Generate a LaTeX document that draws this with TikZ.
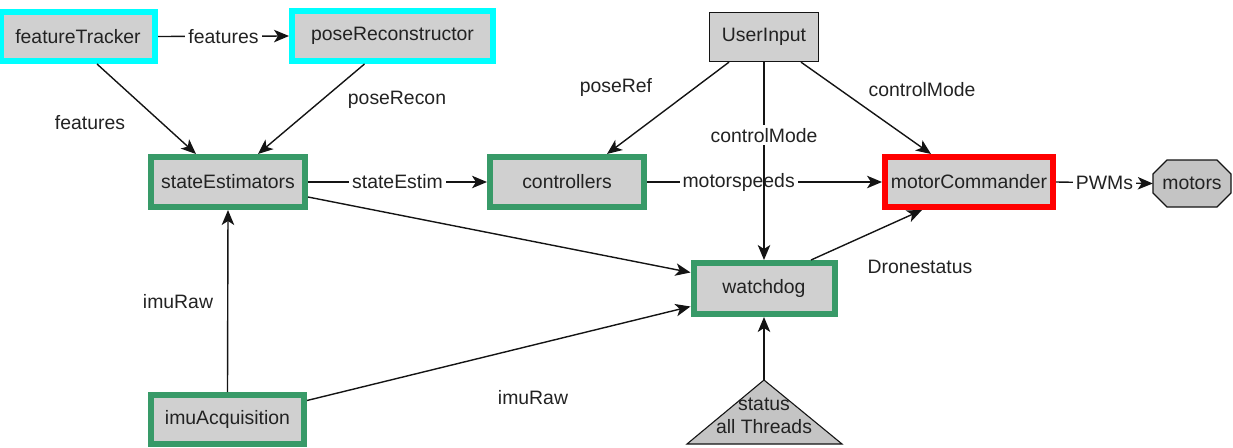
\documentclass[tikz,border=0pt]{standalone}
\usepackage{fontspec}
\setmainfont{Liberation Sans}
\usetikzlibrary{arrows.meta}
\definecolor{boxgray}{RGB}{208,208,208}
\definecolor{shapegray}{RGB}{196,196,196}
\definecolor{cyanc}{RGB}{0,255,255}
\definecolor{greenc}{RGB}{56,154,104}
\definecolor{redc}{RGB}{255,0,0}
\definecolor{txt}{RGB}{34,34,34}
\definecolor{linec}{RGB}{20,20,20}
\begin{document}
\begin{tikzpicture}[x=1pt,y=-1pt,
  every node/.style={font=\fontsize{19.4}{23}\selectfont, text=txt},
  box/.style={rectangle, fill=boxgray, inner sep=0pt, line width=6pt},
  cyanbox/.style={box, draw=cyanc},
  greenbox/.style={box, draw=greenc},
  redbox/.style={box, draw=redc},
  plainbox/.style={box, draw=linec, line width=1.3pt},
  lbl/.style={inner sep=3pt},
  onlbl/.style={lbl, fill=white},
  conn/.style={-{Stealth[length=15pt,width=12.5pt,inset=4pt]}, line width=1.4pt, draw=linec},
  shapeline/.style={draw=linec, line width=1.1pt, fill=shapegray}
]
\useasboundingbox (0,0) rectangle (1233,447);

% nodes
\node[cyanbox, minimum width=154pt, minimum height=49pt] (ft) at (78,36.5) {featureTracker};
\node[cyanbox, minimum width=201pt, minimum height=50pt] (pr) at (392.5,36) {poseReconstructor};
\node[plainbox, minimum width=109pt, minimum height=49pt] (ui) at (764,37) {UserInput};
\node[greenbox, minimum width=154pt, minimum height=50pt] (se) at (228,182) {stateEstimators};
\node[greenbox, minimum width=154pt, minimum height=50pt] (ct) at (567,182) {controllers};
\node[redbox, minimum width=168pt, minimum height=50pt] (mc) at (969,182) {motorCommander};
\node[greenbox, minimum width=141pt, minimum height=51pt] (wd) at (764,288.5) {watchdog};
\node[greenbox, minimum width=153pt, minimum height=49pt] (ia) at (227.5,419.5) {imuAcquisition};

% octagon motors
\draw[shapeline] (1167,160) -- (1217,160) -- (1231,174) -- (1231,193) -- (1217,207) -- (1167,207) -- (1153,193) -- (1153,174) -- cycle;
\node[minimum width=78pt, minimum height=47pt, inner sep=0pt] (mo) at (1192,183.5) {motors};

% triangle status
\draw[shapeline] (764,380) -- (842,444) -- (687,444) -- cycle;
\coordinate (stapex) at (764,380);
\node[align=center, inner sep=0pt] (stt) at (764,416) {status\\all Threads};

% connectors
\draw[conn] (ft.east) -- node[onlbl]{features} (pr.west);
\draw[conn] ([xshift=19pt]ft.south) -- ([xshift=-32pt]se.north);
\draw[conn] ([xshift=-28pt]pr.south) -- ([xshift=30pt]se.north);
\draw[conn] (se.east) -- node[onlbl]{stateEstim} (ct.west);
\draw[conn] (ct.east) -- node[onlbl, pos=0.39]{motorspeeds} (mc.west);
\draw[conn] (mc.east) -- node[onlbl]{PWMs} (mo.west);
\draw[conn] ([xshift=-35pt]ui.south) -- ([xshift=40pt]ct.north);
\draw[conn] ([xshift=37pt]ui.south) -- ([xshift=-38pt]mc.north);
\draw[conn] (ui.south) -- node[onlbl, pos=0.37]{controlMode} (wd.north);
\draw[conn] ([yshift=-15pt]se.east) -- ([yshift=16pt]wd.west);
\draw[conn] ([yshift=19pt]ia.east) -- ([yshift=-18pt]wd.west);
\draw[conn] (ia.north) -- (se.south);
\draw[conn] ([xshift=47pt]wd.north) -- ([xshift=-47pt]mc.south);
\draw[conn] (stapex) -- (wd.south);

% free labels
\node[lbl] (l1) at (90,123) {features};
\node[lbl] (l2) at (397,100) {poseRecon};
\node[lbl] (l3) at (616,87) {poseRef};
\node[lbl] (l4) at (922,90) {controlMode};
\node[lbl] (l5) at (920,267) {Dronestatus};
\node[lbl] (l6) at (178,302) {imuRaw};
\node[lbl] (l7) at (533,398) {imuRaw};
\end{tikzpicture}
\end{document}
